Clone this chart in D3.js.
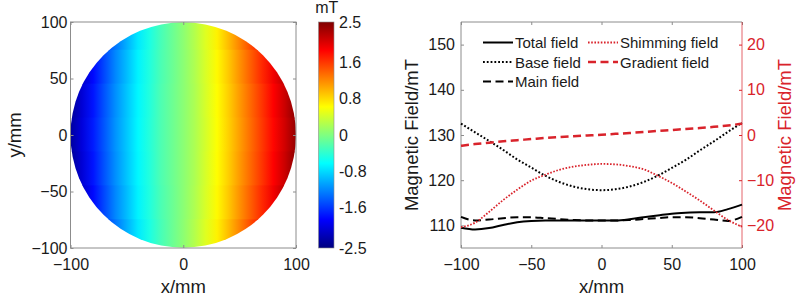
<!DOCTYPE html>
<html>
<head>
<meta charset="utf-8">
<script src="https://cdn.jsdelivr.net/npm/d3@7"></script>
<style>
  body { margin: 0; background: #fff; }
  svg { display: block; font-family: "Liberation Sans", Arial, sans-serif; }
</style>
</head>
<body>
<svg id="fig" width="800" height="300"></svg>
<script>
// ---- data ----
const xPos = [-100, -90, -80, -70, -60, -50, -40, -30, -20, -10, 0, 10, 20, 30, 40, 50, 60, 70, 80, 90, 100];

// left axis (mT)
const totalField = [109.5, 109.1, 109.4, 110.1, 110.7, 111.0, 111.1, 111.1, 111.1, 111.1, 111.1, 111.1, 111.35, 111.8, 112.2, 112.6, 112.8, 112.9, 112.9, 113.6, 114.6];
const baseField = [132.5, 130.6, 128.7, 126.7, 124.6, 122.8, 121.0, 119.6, 118.6, 118.0, 117.8, 118.0, 118.6, 119.6, 121.0, 122.7, 124.5, 126.6, 128.6, 130.7, 132.7];
const mainField = [111.9, 111.1, 111.3, 111.6, 111.8, 111.8, 111.6, 111.4, 111.2, 111.1, 111.1, 111.1, 111.2, 111.4, 111.6, 111.8, 111.8, 111.6, 111.3, 111.0, 111.9];
// right axis (mT)
const shimmingField = [-20.4, -19.4, -17.0, -14.4, -12.1, -10.1, -8.8, -7.7, -7.0, -6.6, -6.4, -6.5, -6.9, -7.6, -9.0, -10.6, -12.5, -14.5, -16.7, -18.8, -20.3];
const gradientField = [-2.4, -2.0, -1.7, -1.4, -1.15, -0.9, -0.65, -0.45, -0.25, -0.1, 0.05, 0.25, 0.45, 0.65, 0.9, 1.1, 1.35, 1.55, 1.8, 2.1, 2.5];

// field map over the disc: one row of values per y band (values at xPos)
const mapRowsY = [90, 60, 30, 0, -30, -60, -90];
const mapRows = [
  [-2.63, -2.30, -1.96, -1.62, -1.29, -1.01, -0.73, -0.50, -0.28, -0.11, 0.06, 0.25, 0.47, 0.69, 0.95, 1.23, 1.51, 1.79, 2.07, 2.35, 2.69],
  [-2.47, -2.15, -1.84, -1.52, -1.21, -0.95, -0.68, -0.47, -0.26, -0.11, 0.05, 0.23, 0.44, 0.65, 0.89, 1.16, 1.42, 1.68, 1.94, 2.21, 2.52],
  [-2.39, -2.08, -1.78, -1.47, -1.17, -0.91, -0.66, -0.46, -0.25, -0.10, 0.05, 0.22, 0.43, 0.63, 0.86, 1.12, 1.37, 1.62, 1.88, 2.13, 2.44],
  [-2.35, -2.05, -1.75, -1.45, -1.15, -0.90, -0.65, -0.45, -0.25, -0.10, 0.05, 0.22, 0.42, 0.62, 0.85, 1.10, 1.35, 1.60, 1.85, 2.10, 2.40],
  [-2.39, -2.08, -1.78, -1.47, -1.17, -0.91, -0.66, -0.46, -0.25, -0.10, 0.05, 0.22, 0.43, 0.63, 0.86, 1.12, 1.37, 1.62, 1.88, 2.13, 2.44],
  [-2.47, -2.15, -1.84, -1.52, -1.21, -0.95, -0.68, -0.47, -0.26, -0.11, 0.05, 0.23, 0.44, 0.65, 0.89, 1.16, 1.42, 1.68, 1.94, 2.21, 2.52],
  [-2.63, -2.30, -1.96, -1.62, -1.29, -1.01, -0.73, -0.50, -0.28, -0.11, 0.06, 0.25, 0.47, 0.69, 0.95, 1.23, 1.51, 1.79, 2.07, 2.35, 2.69]
];

const mapTicks = [-100, 0, 100];
const mapYTicks = [-100, -50, 0, 50, 100];
const cbarTicks = [-2.5, -1.6, -0.8, 0, 0.8, 1.6, 2.5];
const plotXTicks = [-100, -50, 0, 50, 100];
const leftTicks = [110, 120, 130, 140, 150];
const rightTicks = [-20, -10, 0, 10, 20];

// ---- styles ----
const boxColor = "#8c8c8c";
const textColor = "#1a1a1a";
const red = "#d9232b";
const tickFont = 16;
const labelFont = 18.5;

const svg = d3.select("#fig");
const defs = svg.append("defs");

// MATLAB-like jet colormap
function jet(t) {
  const c = v => Math.max(0, Math.min(1, v));
  const r = c(1.5 - Math.abs(4 * t - 3));
  const g = c(1.5 - Math.abs(4 * t - 2));
  const b = c(1.5 - Math.abs(4 * t - 1));
  return d3.rgb(r * 255, g * 255, b * 255).formatHex();
}
const color = d3.scaleSequential(jet).domain([-2.5, 2.5]).clamp(true);

// ================= left: field map =================
const xMap = d3.scaleLinear().domain([-100, 100]).range([70.5, 296]);
const yMap = d3.scaleLinear().domain([-100, 100]).range([248, 22]);

defs.append("clipPath").attr("id", "disc")
  .append("circle")
  .attr("cx", xMap(0))
  .attr("cy", yMap(0))
  .attr("r", xMap(100) - xMap(0));

const mapG = svg.append("g").attr("clip-path", "url(#disc)");
mapRows.forEach((row, i) => {
  const grad = defs.append("linearGradient")
    .attr("id", `row${i}`)
    .attr("gradientUnits", "userSpaceOnUse")
    .attr("x1", xMap(-100)).attr("x2", xMap(100))
    .attr("y1", 0).attr("y2", 0);
  row.forEach((v, j) => {
    grad.append("stop")
      .attr("offset", (xMap(xPos[j]) - xMap(-100)) / (xMap(100) - xMap(-100)))
      .attr("stop-color", color(v));
  });
  const yc = mapRowsY[i];
  mapG.append("rect")
    .attr("x", xMap(-100))
    .attr("width", xMap(100) - xMap(-100))
    .attr("y", yMap(yc + 15) - 0.5)
    .attr("height", yMap(yc - 15) - yMap(yc + 15) + 1)
    .attr("fill", `url(#row${i})`);
});

function styleAxis(sel, col) {
  sel.select(".domain").remove();
  sel.selectAll(".tick line").attr("stroke", col || boxColor);
  sel.selectAll(".tick text")
    .attr("fill", col || textColor)
    .style("font-size", tickFont + "px")
    .style("font-family", "'Liberation Sans', Arial, sans-serif");
}

svg.append("g").attr("transform", `translate(0,${yMap(-100)})`)
  .call(d3.axisBottom(xMap).tickValues(mapTicks).tickSize(-3).tickPadding(10.5))
  .call(styleAxis);
svg.append("g").attr("transform", `translate(0,${yMap(100)})`)
  .call(d3.axisTop(xMap).tickValues(mapTicks).tickSize(-3).tickFormat(""))
  .call(styleAxis);
svg.append("g").attr("transform", `translate(${xMap(-100)},0)`)
  .call(d3.axisLeft(yMap).tickValues(mapYTicks).tickSize(-3).tickPadding(3))
  .call(styleAxis);
svg.append("g").attr("transform", `translate(${xMap(100)},0)`)
  .call(d3.axisRight(yMap).tickValues(mapYTicks).tickSize(-3).tickFormat(""))
  .call(styleAxis);

svg.append("rect")
  .attr("x", xMap(-100)).attr("y", yMap(100))
  .attr("width", xMap(100) - xMap(-100)).attr("height", yMap(-100) - yMap(100))
  .attr("fill", "none").attr("stroke", boxColor).attr("stroke-width", 1);

svg.append("text")
  .attr("x", (xMap(-100) + xMap(100)) / 2).attr("y", 293)
  .attr("text-anchor", "middle").attr("fill", textColor)
  .style("font-size", labelFont + "px").text("x/mm");
svg.append("text")
  .attr("transform", `translate(21,${yMap(0)}) rotate(-90)`)
  .attr("text-anchor", "middle").attr("fill", textColor)
  .style("font-size", labelFont + "px").text("y/mm");

// colorbar
const cbX = 318.5, cbW = 15.5;
const yBar = d3.scaleLinear().domain([-2.5, 2.5]).range([248, 22]);
const cbGrad = defs.append("linearGradient").attr("id", "cbar")
  .attr("x1", 0).attr("x2", 0).attr("y1", 1).attr("y2", 0);
d3.range(0, 1.0001, 1 / 64).forEach(t => {
  cbGrad.append("stop").attr("offset", t).attr("stop-color", jet(t));
});
svg.append("rect")
  .attr("x", cbX).attr("y", yBar(2.5))
  .attr("width", cbW).attr("height", yBar(-2.5) - yBar(2.5))
  .attr("fill", "url(#cbar)")
  .attr("stroke", boxColor).attr("stroke-width", 0.6);
svg.append("g").attr("transform", `translate(${cbX + cbW},0)`)
  .call(d3.axisRight(yBar).tickValues(cbarTicks).tickSize(0).tickPadding(5).tickFormat(d => d))
  .call(styleAxis);
svg.append("text")
  .attr("x", cbX + cbW / 2 + 0.5).attr("y", 13)
  .attr("text-anchor", "middle").attr("fill", textColor)
  .style("font-size", tickFont + "px").text("mT");

// ================= right: field profiles =================
const x = d3.scaleLinear().domain([-100, 100]).range([461, 742]);
const yL = d3.scaleLinear().domain([105, 155]).range([248, 22]);
const yR = d3.scaleLinear().domain([-25, 25]).range([248, 22]);

svg.append("g").attr("transform", `translate(0,${yL.range()[0]})`)
  .call(d3.axisBottom(x).tickValues(plotXTicks).tickSize(-3).tickPadding(10.5))
  .call(styleAxis);
svg.append("g").attr("transform", `translate(0,${yL.range()[1]})`)
  .call(d3.axisTop(x).tickValues(plotXTicks).tickSize(-3).tickFormat(""))
  .call(styleAxis);
svg.append("g").attr("transform", `translate(${x(-100)},0)`)
  .call(d3.axisLeft(yL).tickValues(leftTicks).tickSize(-3).tickPadding(6))
  .call(styleAxis);
svg.append("g").attr("transform", `translate(${x(100)},0)`)
  .call(d3.axisRight(yR).tickValues(rightTicks).tickSize(-3).tickPadding(5))
  .call(g => styleAxis(g, red));

// frame: gray on three sides, red on the right
const [px0, px1] = x.range();
const [py1, py0] = yL.range();
svg.append("path")
  .attr("d", `M${px1},${py0}H${px0}V${py1}H${px1}`)
  .attr("fill", "none").attr("stroke", boxColor);
svg.append("line")
  .attr("x1", px1).attr("x2", px1).attr("y1", py0).attr("y2", py1)
  .attr("stroke", red).attr("stroke-opacity", 0.7);

const series = [
  { name: "Total field", values: totalField, axis: yL, stroke: "#000", width: 2, dash: null },
  { name: "Base field", values: baseField, axis: yL, stroke: "#000", width: 2, dash: "1.8,2" },
  { name: "Main field", values: mainField, axis: yL, stroke: "#000", width: 2, dash: "8,4.5" },
  { name: "Shimming field", values: shimmingField, axis: yR, stroke: red, width: 1.8, dash: "1.6,1.6" },
  { name: "Gradient field", values: gradientField, axis: yR, stroke: red, width: 2.5, dash: "8,4.5" }
];

const plotG = svg.append("g");
series.forEach(s => {
  const line = d3.line()
    .x((d, i) => x(xPos[i]))
    .y(d => s.axis(d))
    .curve(d3.curveMonotoneX);
  plotG.append("path")
    .attr("d", line(s.values))
    .attr("fill", "none")
    .attr("stroke", s.stroke)
    .attr("stroke-width", s.width)
    .attr("stroke-dasharray", s.dash);
});

// legend (two columns, no box)
const legendPos = [
  { col: 0, row: 0 }, { col: 0, row: 1 }, { col: 0, row: 2 },
  { col: 1, row: 0 }, { col: 1, row: 1 }
];
const colX = [483, 588];
const rowY = [42.5, 62, 81.5];
const legend = svg.append("g");
series.forEach((s, i) => {
  const p = legendPos[i];
  const lx = colX[p.col], ly = rowY[p.row];
  legend.append("line")
    .attr("x1", lx).attr("x2", lx + 30)
    .attr("y1", ly).attr("y2", ly)
    .attr("stroke", s.stroke)
    .attr("stroke-width", s.width)
    .attr("stroke-dasharray", s.dash);
  legend.append("text")
    .attr("x", lx + 32).attr("y", ly + 5.5)
    .attr("fill", textColor)
    .style("font-size", "15px")
    .text(s.name);
});

svg.append("text")
  .attr("x", (px0 + px1) / 2).attr("y", 293)
  .attr("text-anchor", "middle").attr("fill", textColor)
  .style("font-size", labelFont + "px").text("x/mm");
svg.append("text")
  .attr("transform", `translate(418,${(py0 + py1) / 2}) rotate(-90)`)
  .attr("text-anchor", "middle").attr("fill", textColor)
  .style("font-size", labelFont + "px").text("Magnetic Field/mT");
svg.append("text")
  .attr("transform", `translate(791,${(py0 + py1) / 2}) rotate(-90)`)
  .attr("text-anchor", "middle").attr("fill", red)
  .style("font-size", labelFont + "px").text("Magnetic Field/mT");
</script>
</body>
</html>
